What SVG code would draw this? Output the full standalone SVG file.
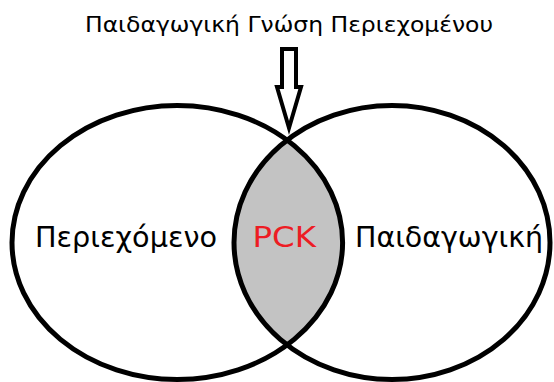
<svg xmlns="http://www.w3.org/2000/svg" width="554" height="382" viewBox="0 0 554 382">
<style>
.ring{fill:none;stroke:#000;stroke-width:5}
.lbl{font-family:"DejaVu Sans","Liberation Sans",Arial,sans-serif;fill:#000}
</style>
<rect width="554" height="382" fill="#fff"/>
<g id="title"><text class="lbl" x="85" y="32" font-size="20.5" textLength="408" lengthAdjust="spacingAndGlyphs">Παιδαγωγική Γνώση Περιεχομένου</text></g>
<g id="overlap"><path d="M287,140 A158,137 0 0 0 287,345 A165.3,137 0 0 0 287,140 Z" fill="#c3c3c3"/></g>
<g id="content"><ellipse class="ring" cx="177.3" cy="242.5" rx="165.3" ry="137"/><text class="lbl" x="35" y="246.5" font-size="27.5" textLength="182" lengthAdjust="spacingAndGlyphs">Περιεχόμενο</text></g>
<g id="pedagogy"><ellipse class="ring" cx="392" cy="242.5" rx="158" ry="137"/><text class="lbl" x="355" y="246.5" font-size="27.5" textLength="188" lengthAdjust="spacingAndGlyphs">Παιδαγωγική</text></g>
<g id="pck"><text class="lbl" x="252.5" y="246.5" font-size="27.5" style="fill:#ed1c24" textLength="63.5" lengthAdjust="spacingAndGlyphs">PCK</text></g>
<g id="connectors"><polygon points="282,49 296,49 296,87 301,87 289,128 277,87 282,87" fill="#fff" stroke="#000" stroke-width="4"/></g>
</svg>
